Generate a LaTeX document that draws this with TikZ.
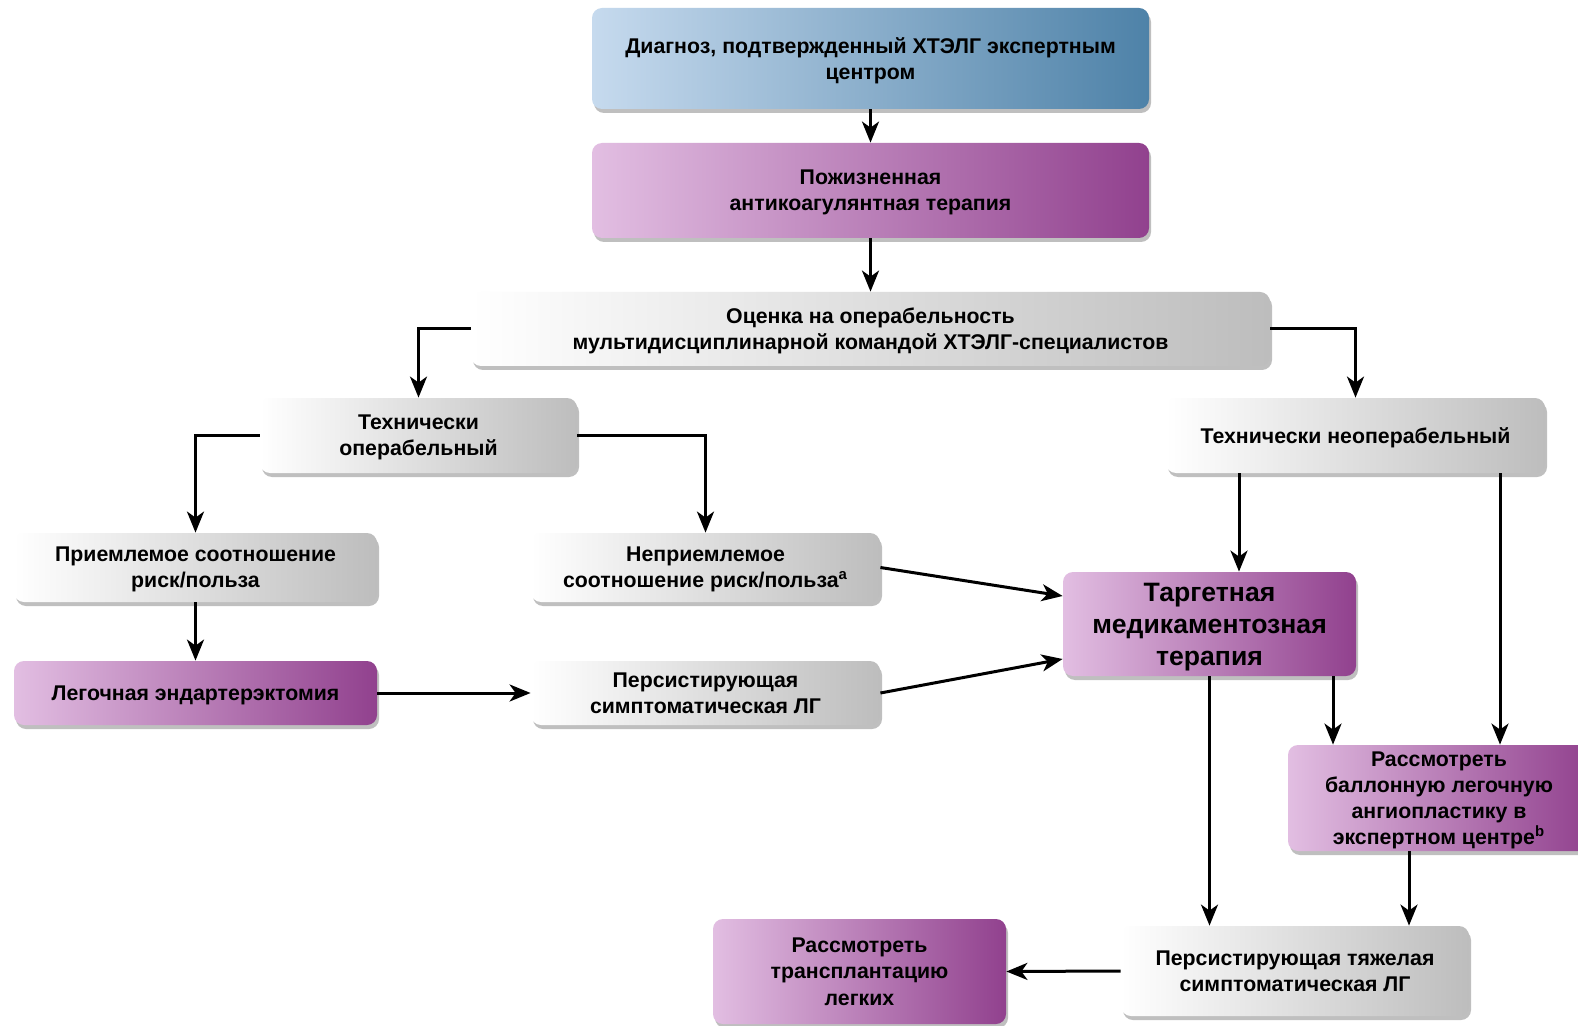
\documentclass[tikz,border=0pt]{standalone}
\usepackage{fontspec}
\setmainfont{Liberation Sans}
\usetikzlibrary{arrows.meta,shadows,calc}
\definecolor{blueL}{HTML}{C6DAEE}
\definecolor{blueM}{HTML}{8FB6D6}
\definecolor{blueR}{HTML}{4E82A8}
\definecolor{purL}{HTML}{E2BEE2}
\definecolor{purM}{HTML}{C474C4}
\definecolor{purR}{HTML}{91418E}
\definecolor{grayM}{HTML}{F2F2F2}
\definecolor{grayR}{HTML}{BDBDBD}
\tikzset{
  basebox/.style={rounded corners=5pt, align=center, inner sep=0pt, text depth=0pt,
    font=\bfseries\fontsize{10.65}{13.1}\selectfont, text=black,
    drop shadow={shadow xshift=1pt, shadow yshift=-2pt, opacity=0.45, fill=black!55}},
  bluebox/.style={basebox, left color=blueL, middle color=blueM, right color=blueR},
  purbox/.style={basebox, left color=purL, middle color=purM, right color=purR},
  graybox/.style={basebox, left color=white, middle color=grayM, right color=grayR},
  arr/.style={line width=1.5pt, -{Stealth[length=10.5pt, width=8.5pt, inset=3pt]}}
}
\begin{document}
\begin{tikzpicture}[x=0.5pt, y=-0.5pt]
\clip (0,0) rectangle (1578,1026);
\fill[white] (0,0) rectangle (1578,1026);

\node[bluebox, minimum width=278.5pt, minimum height=50.5pt] (b1) at (870.5,58.5)
  {Диагноз, подтвержденный ХТЭЛГ экспертным\\центром};
\node[purbox, minimum width=278.5pt, minimum height=47.5pt] (b2) at (870.5,190.5)
  {Пожизненная\\антикоагулянтная терапия};
\node[graybox, minimum width=399.5pt, minimum height=37pt] (b3) at (870.5,329)
  {Оценка на операбельность\\мультидисциплинарной командой ХТЭЛГ-специалистов};
\node[graybox, minimum width=158.5pt, minimum height=37.5pt] (b4) at (418.5,435.5)
  {Технически\\операбельный};
\node[graybox, minimum width=189.5pt, minimum height=37.5pt] (b5) at (1355.5,435.5)
  {Технически неоперабельный};
\node[graybox, minimum width=181.5pt, minimum height=34.5pt] (b6) at (195.5,567.5)
  {Приемлемое соотношение\\риск/польза};
\node[graybox, minimum width=174.5pt, minimum height=34.5pt] (b7) at (705.5,567.5)
  {Неприемлемое\\соотношение риск/польза\textsuperscript{a}};
\node[purbox, minimum width=146.5pt, minimum height=52pt,
  font=\bfseries\fontsize{13.3}{16}\selectfont] (b8) at (1209.5,624)
  {Таргетная\\медикаментозная\\терапия};
\node[purbox, minimum width=181.5pt, minimum height=32pt] (b9) at (195.5,693)
  {Легочная эндартерэктомия};
\node[graybox, minimum width=174.5pt, minimum height=32pt] (b10) at (705.5,693)
  {Персистирующая\\симптоматическая ЛГ};
\node[purbox, minimum width=151pt, minimum height=53pt] (b11) at (1439,798)
  {Рассмотреть\\баллонную легочную\\ангиопластику в\\экспертном центре\textsuperscript{b}};
\node[graybox, minimum width=174pt, minimum height=45pt] (b12) at (1295,971)
  {Персистирующая тяжелая\\симптоматическая ЛГ};
\node[purbox, minimum width=146.5pt, minimum height=52.5pt] (b13) at (859.5,971.5)
  {Рассмотреть\\трансплантацию\\легких};

\draw[arr] (b1.south) -- (b2.north);
\draw[arr] (b2.south) -- (b3.north);
\draw[arr] (b3.west) -| (b4.north);
\draw[arr] (b3.east) -| (b5.north);
\draw[arr] (b4.west) -| (b6.north);
\draw[arr] (b4.east) -| (b7.north);
\draw[arr] (b6.south) -- (b9.north);
\draw[arr] (b9.east) -- (b10.west);
\draw[arr] (b7.east) -- ([yshift=14pt]b8.west);
\draw[arr] (b10.east) -- ([yshift=-17.5pt]b8.west);
\coordinate (p1) at ([xshift=-58.25pt]b5.south);
\draw[arr] (p1) -- (p1 |- b8.north);
\coordinate (p2) at ([xshift=72.25pt]b5.south);
\draw[arr] (p2) -- (p2 |- b11.north);
\coordinate (p3) at ([xshift=61.75pt]b8.south);
\draw[arr] (p3) -- (p3 |- b11.north);
\draw[arr] (b8.south) -- (b8.south |- b12.north);
\coordinate (p4) at ([xshift=-15pt]b11.south);
\draw[arr] (p4) -- (p4 |- b12.north);
\draw[arr] (b12.west) -- (b13.east);
\end{tikzpicture}
\end{document}
